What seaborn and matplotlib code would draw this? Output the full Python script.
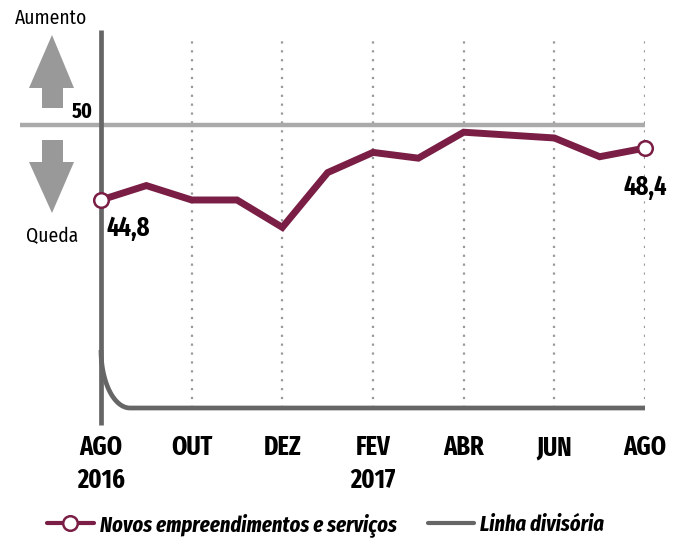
import numpy as np
import pandas as pd
import matplotlib
matplotlib.use("Agg")
import matplotlib.pyplot as plt
from matplotlib.lines import Line2D
from matplotlib.patches import Polygon
import seaborn as sns

# data
months = ['AGO', 'SET', 'OUT', 'NOV', 'DEZ', 'JAN', 'FEV', 'MAR', 'ABR', 'MAI', 'JUN', 'JUL', 'AGO']
values = [44.8, 45.8, 44.8, 44.8, 42.9, 46.7, 48.1, 47.7, 49.5, 49.3, 49.1, 47.8, 48.4]
tick_pos = [0, 2, 4, 6, 8, 10, 12]
tick_labels = ['AGO\n2016', 'OUT', 'DEZ', 'FEV\n2017', 'ABR', 'JUN', 'AGO']
divide_value = 50

df = pd.DataFrame({'mes': np.arange(len(months)), 'indice': values})

sns.set_style("white")
plt.rcParams['font.family'] = ['Fira Sans Extra Condensed', 'Fira Sans Condensed', 'DejaVu Sans']
plt.rcParams['text.color'] = 'black'
reg_font = ['Fira Sans Condensed', 'DejaVu Sans']

maroon = '#7a1e45'
dark = '#666666'
light = '#aaaaaa'

W, H = 688, 539
fig = plt.figure(figsize=(W / 100, H / 100), dpi=100)


def fx(x):
    return x / W


def fy(y):
    return 1 - y / H


# axes box placed by pixels: x 101..645, y 20..408
scale = 14.42  # pixels per index point
ax = fig.add_axes([fx(101), fy(408), fx(645) - fx(101), (408 - 20) / H])
ymin = divide_value - (408 - 125) / scale
ax.set_xlim(0, 12)
ax.set_ylim(ymin, ymin + 388 / scale)
for s in ax.spines.values():
    s.set_visible(False)

# dotted guides
gtop = divide_value + 90 / scale
ax.vlines(tick_pos[1:], ymin, gtop, colors='#999999', linestyles=(0, (1, 3)), linewidth=1.6, zorder=1)

# 50 line
ax.plot([-81 / 45.33, 12], [divide_value, divide_value], color=light, linewidth=3.2,
        clip_on=False, zorder=2, solid_capstyle='butt')

# vertical axis line
ax.plot([0, 0], [divide_value + 95 / scale, ymin - 17 / scale], color=dark, linewidth=3.4,
        clip_on=False, zorder=3, solid_capstyle='butt')

# baseline with rounded corner (Linha divisória)
t = np.linspace(0, np.pi / 2, 40)
cx = 29 / 45.33
cy = ymin + 58 / scale
curve_x = np.concatenate([cx - cx * np.cos(t), [12]])
curve_y = np.concatenate([cy - (58 / scale) * np.sin(t), [ymin]])
ax.plot(curve_x, curve_y, color=dark, linewidth=3.4, clip_on=False, zorder=3,
        solid_capstyle='butt')

# main series
sns.lineplot(data=df, x='mes', y='indice', color=maroon, linewidth=5, ax=ax, zorder=4)
ax.lines[-1].set_clip_on(False)
ax.lines[-1].set_solid_joinstyle('miter')
ax.plot(df['mes'].iloc[[0, -1]], df['indice'].iloc[[0, -1]], 'o', mfc='white', mec=maroon,
        ms=10.5, mew=1.8, clip_on=False, zorder=5)

ax.set_xticks(tick_pos)
ax.set_xticklabels(tick_labels, fontsize=19, fontweight='bold', linespacing=1.3)
ax.tick_params(axis='x', length=12, width=3, color=dark, pad=7, labelcolor='black')
ax.set_yticks([])
ax.set_xlabel('')
ax.set_ylabel('')

# value labels
ax.text(0.13, divide_value - (228 - 125) / scale, '44,8', fontsize=19, fontweight='bold',
        ha='left', va='center')
ax.text(12, divide_value - (187 - 125) / scale, '48,4', fontsize=19, fontweight='bold',
        ha='center', va='center')
fig.text(fx(93), fy(118), '50', fontsize=15.5, fontweight='bold', ha='right', va='baseline')
fig.text(fx(51), fy(18), 'Aumento', fontsize=14, ha='center', va='center', family=reg_font)
fig.text(fx(52), fy(236), 'Queda', fontsize=14, ha='center', va='center', family=reg_font)

# up / down arrows
grey = '#999999'
up = [(52, 35), (74, 88), (63, 88), (63, 108), (42, 108), (42, 88), (29, 88)]
down = [(42, 140), (63, 140), (63, 162), (74, 162), (52, 213), (29, 162), (42, 162)]
for pts in (up, down):
    fig.patches.append(Polygon([(fx(a), fy(b)) for a, b in pts], closed=True,
                               transform=fig.transFigure, facecolor=grey, edgecolor='none'))

# legend
handles = [
    Line2D([], [], color=maroon, linewidth=3, marker='o', mfc='white', mec=maroon, ms=10.5, mew=1.8),
    Line2D([], [], color=dark, linewidth=3),
]
leg = fig.legend(handles, ['Novos empreendimentos e serviços', 'Linha divisória'],
                 loc='center left', bbox_to_anchor=(fx(47), fy(525)), ncol=2, frameon=False,
                 borderpad=0, borderaxespad=0, handlelength=2.1, handletextpad=0.27,
                 columnspacing=1.4, numpoints=1,
                 prop={'size': 16, 'weight': 'bold', 'style': 'italic'})

fig.savefig('out.png', dpi=100)
